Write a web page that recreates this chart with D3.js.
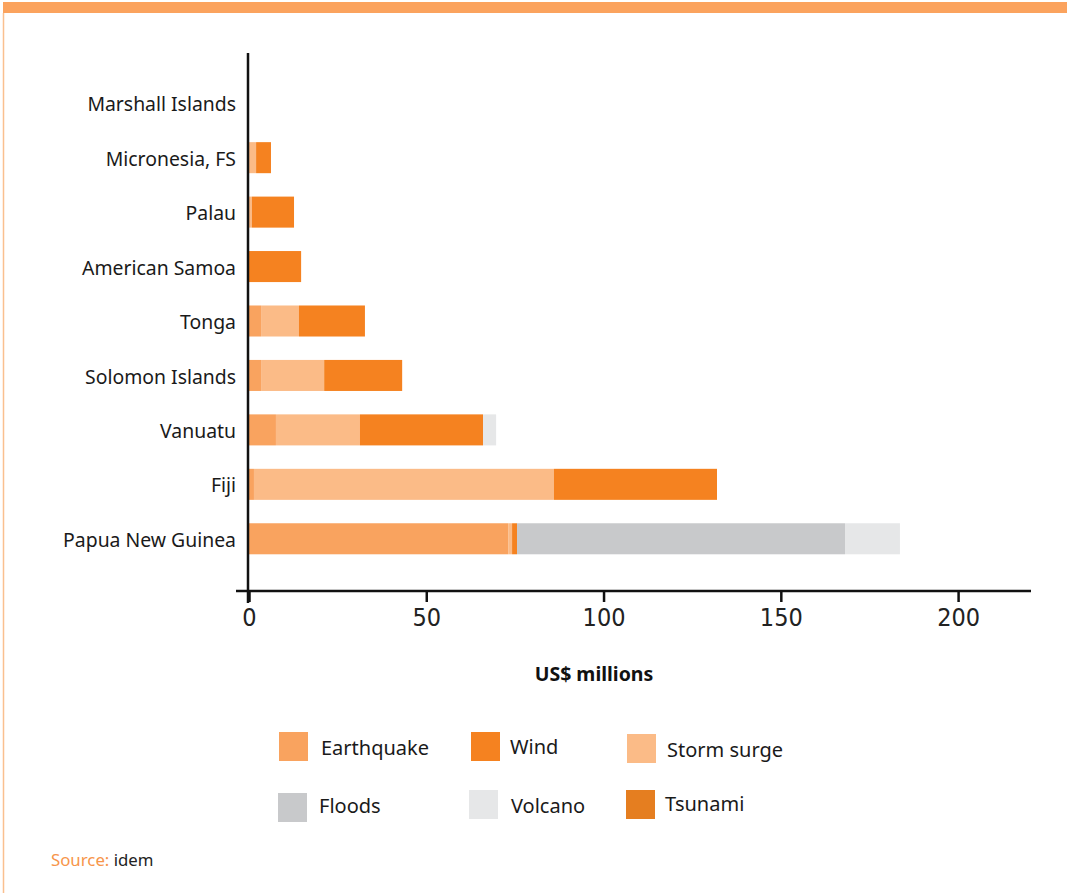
<!DOCTYPE html>
<html>
<head>
<meta charset="utf-8">
<script src="https://cdn.jsdelivr.net/npm/d3@7"></script>
<style>
  body { margin: 0; background: #fff; }
  svg { display: block; }
</style>
</head>
<body>
<svg id="chart" width="1067" height="893"></svg>
<script>
const countries = ["Marshall Islands", "Micronesia, FS", "Palau", "American Samoa", "Tonga", "Solomon Islands", "Vanuatu", "Fiji", "Papua New Guinea"];
const hazards = ["Earthquake", "Storm surge", "Wind", "Floods", "Volcano", "Tsunami"];
const earthquake = [0, 0, 0, 0, 3.4, 3.4, 7.6, 1.4, 73.1];
const stormSurge = [0, 2.0, 0.8, 0, 10.7, 17.8, 23.7, 84.6, 1.1];
const wind       = [0, 4.2, 11.9, 14.7, 18.6, 22.0, 34.7, 46.0, 1.4];
const floods     = [0, 0, 0, 0, 0, 0, 0, 0, 92.5];
const volcano    = [0, 0, 0, 0, 0, 0, 3.7, 0, 15.5];
const tsunami    = [0, 0, 0, 0, 0, 0, 0, 0, 0];
const xTicks = [0, 50, 100, 150, 200];
const legendOrder = ["Earthquake", "Wind", "Storm surge", "Floods", "Volcano", "Tsunami"];

const colors = {
  "Earthquake": "#F9A35F",
  "Wind": "#F58220",
  "Storm surge": "#FBBB87",
  "Floods": "#C8C9CB",
  "Volcano": "#E6E7E8",
  "Tsunami": "#E57E20"
};

const seriesByName = {
  "Earthquake": earthquake, "Storm surge": stormSurge, "Wind": wind,
  "Floods": floods, "Volcano": volcano, "Tsunami": tsunami
};
const table = countries.map((c, i) => {
  const row = { country: c };
  hazards.forEach(h => row[h] = seriesByName[h][i]);
  return row;
});

const svg = d3.select("#chart");
const labelFont = "'Noto Sans', 'Open Sans', sans-serif";

// frame decoration
svg.append("rect").attr("x", 3).attr("y", 2).attr("width", 1064).attr("height", 11).attr("fill", "#FBA35E");
svg.append("line").attr("x1", 3.5).attr("x2", 3.5).attr("y1", 13).attr("y2", 893)
  .attr("stroke", "#FAC08F").attr("stroke-width", 1.5);

const x = d3.scaleLinear().domain([0, 220]).range([249, 1029]);
const y = d3.scaleBand().domain(countries).range([76, 566]).paddingInner(0.43).paddingOuter(0.215);

const stack = d3.stack().keys(hazards);
const stacked = stack(table);

const g = svg.append("g");
g.selectAll("g.series").data(stacked).join("g")
  .attr("class", "series")
  .attr("fill", d => colors[d.key])
  .selectAll("rect").data(d => d).join("rect")
  .attr("x", d => x(d[0]))
  .attr("width", d => Math.max(0, x(d[1]) - x(d[0])))
  .attr("y", d => y(d.data.country))
  .attr("height", y.bandwidth());

// x axis
const xAxis = d3.axisBottom(x).tickValues(xTicks).tickSize(11).tickPadding(6);
const xg = svg.append("g").attr("transform", "translate(0,591)").call(xAxis);
xg.select(".domain").remove();
xg.append("line").attr("x1", 236).attr("x2", 1031).attr("y1", 0).attr("y2", 0)
  .attr("stroke", "#111").attr("stroke-width", 2.5);
xg.selectAll(".tick line").attr("stroke", "#111").attr("stroke-width", 2.5).attr("y1", 0);
xg.selectAll(".tick text")
  .attr("fill", "#222")
  .attr("font-family", "'Liberation Sans Narrow', 'DejaVu Sans Condensed', sans-serif")
  .attr("font-size", 25)
  .attr("dy", "0.71em");

// y axis
const yAxis = d3.axisLeft(y).tickSize(0).tickPadding(12);
const yg = svg.append("g").attr("transform", "translate(248,0)").call(yAxis);
yg.select(".domain").remove();
yg.append("line").attr("x1", 0).attr("x2", 0).attr("y1", 53).attr("y2", 603)
  .attr("stroke", "#111").attr("stroke-width", 2.5);
yg.selectAll(".tick text")
  .attr("fill", "#1a1a1a")
  .attr("font-family", labelFont)
  .attr("font-size", 19.4)
  .attr("dy", "0.42em");

// axis title
svg.append("text").attr("x", 594).attr("y", 681).attr("text-anchor", "middle")
  .attr("font-family", labelFont).attr("font-weight", "bold").attr("font-size", 19.5)
  .attr("fill", "#111").text("US$ millions");

// legend
const legendPos = [
  { sx: 279, sy: 732, tx: 321, ty: 755 },
  { sx: 471, sy: 732, tx: 510, ty: 754 },
  { sx: 627, sy: 734, tx: 667, ty: 757 },
  { sx: 278, sy: 793, tx: 319, ty: 813 },
  { sx: 469, sy: 790, tx: 511, ty: 813 },
  { sx: 626, sy: 790, tx: 665, ty: 811 }
];
const lg = svg.append("g").selectAll("g").data(legendOrder).join("g");
lg.append("rect")
  .attr("x", (d, i) => legendPos[i].sx).attr("y", (d, i) => legendPos[i].sy)
  .attr("width", 29).attr("height", 29).attr("fill", d => colors[d]);
lg.append("text")
  .attr("x", (d, i) => legendPos[i].tx).attr("y", (d, i) => legendPos[i].ty)
  .attr("font-family", labelFont).attr("font-size", 20).attr("fill", "#1a1a1a")
  .text(d => d);

// source
const src = svg.append("text").attr("x", 51).attr("y", 866)
  .attr("font-family", labelFont).attr("font-size", 16.8);
src.append("tspan").attr("fill", "#F7954A").text("Source: ");
src.append("tspan").attr("fill", "#222").text("idem");
</script>
</body>
</html>
